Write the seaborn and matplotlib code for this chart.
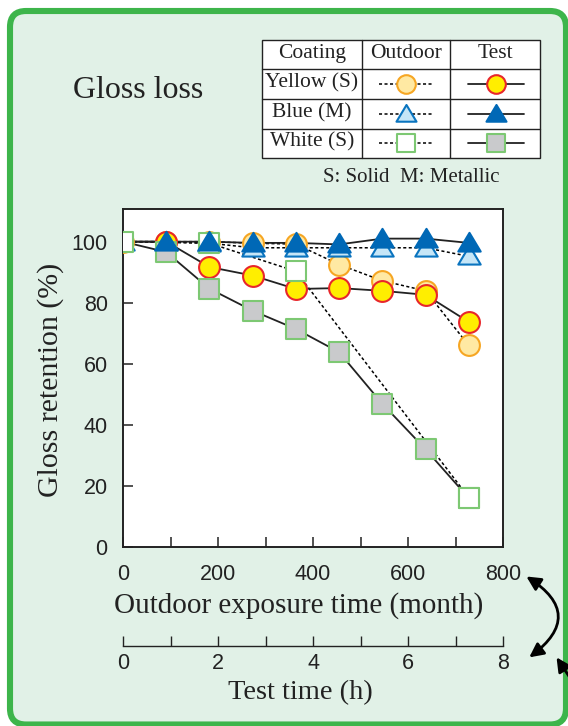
import numpy as np
import matplotlib
matplotlib.use('Agg')
import matplotlib.pyplot as plt
import matplotlib.patches as mpatches
import matplotlib.ticker as mticker
from matplotlib.path import Path
import seaborn as sns

# ── Datos ────────────────────────────────────────────────────
meses = [0, 91, 182, 273, 364, 455, 546, 637, 728]
amarillo_test = [100, 100, 91.7, 88.9, 84.5, 84.8, 83.9, 82.6, 73.7]
amarillo_ext = [100, 100, 100, 99.5, 99.2, 92.5, 87.2, 83.9, 66.0]
azul_test = [100, 100, 100, 99.6, 99.6, 99.1, 101.0, 101.0, 99.6]
azul_ext = [100, 100, 99.5, 98.0, 98.0, 98.0, 98.0, 98.0, 95.2]
blanco_test = [100, 96.6, 84.6, 77.4, 71.4, 63.8, 46.9, 32.0, 16.0]
meses_blanco_ext = [0, 182, 364, 728]
blanco_ext = [100, 99.5, 90.3, 16.2]

ticks_meses = [0, 200, 400, 600, 800]
ticks_horas = [0, 2, 4, 6, 8]
ticks_y = [0, 20, 40, 60, 80, 100]

# ── Configuración visual ──────────────────────────────────────
sns.set_theme(style='ticks')
plt.rcParams.update({
    'font.family': ['Liberation Sans', 'DejaVu Sans'],
    'axes.linewidth': 1.4,
    'axes.edgecolor': '#222222',
    'xtick.color': '#222222',
    'ytick.color': '#222222',
})
SERIF = ['Liberation Serif', 'DejaVu Serif']

VERDE_BORDE = '#3DB54B'
FONDO = '#E1F1E7'
triangulo = Path([(-1, -0.72), (1, -0.72), (0, 0.95), (-1, -0.72)],
                 [Path.MOVETO, Path.LINETO, Path.LINETO, Path.CLOSEPOLY])

estilos = {
    'amarillo_ext': dict(marker='o', s=225, color='#FFE9A3', edgecolor='#F6A623', linewidth=1.5),
    'azul_ext': dict(marker=triangulo, s=260, color='#C6E6F7', edgecolor='#0A74BF', linewidth=1.5),
    'amarillo_test': dict(marker='o', s=225, color='#FFEE00', edgecolor='#E8262B', linewidth=1.5),
    'blanco_test': dict(marker='s', s=215, color='#C9CACC', edgecolor='#7DC873', linewidth=1.5),
    'blanco_ext': dict(marker='s', s=215, color='white', edgecolor='#7DC873', linewidth=1.5),
    'azul_test': dict(marker=triangulo, s=260, color='#0068B6', edgecolor='#0068B6', linewidth=1.5),
}
punteado = (0, (2.0, 1.6))

W, H = 568, 726
fig = plt.figure(figsize=(W / 100, H / 100), dpi=100)
fig.patch.set_facecolor('white')

# capa de fondo en píxeles
fondo = fig.add_axes([0, 0, 1, 1], zorder=-1)
fondo.set_xlim(0, W)
fondo.set_ylim(H, 0)
fondo.axis('off')
fondo.add_patch(mpatches.FancyBboxPatch((10, 11), 556, 713.5,
                                        boxstyle='round,pad=0,rounding_size=16',
                                        facecolor=FONDO, edgecolor=VERDE_BORDE, linewidth=4.4))

# ── Gráfico principal ────────────────────────────────────────
ax = fig.add_axes([123 / W, 1 - 547 / H, 380 / W, 338 / H])
ax.set_facecolor('white')

sns.lineplot(x=meses, y=amarillo_ext, ax=ax, color='black', lw=1.1, linestyle=punteado, errorbar=None, zorder=2)
sns.lineplot(x=meses, y=azul_ext, ax=ax, color='black', lw=1.1, linestyle=punteado, errorbar=None, zorder=2)
sns.lineplot(x=meses_blanco_ext, y=blanco_ext, ax=ax, color='black', lw=1.1, linestyle=punteado, errorbar=None, zorder=2)
sns.lineplot(x=meses, y=amarillo_test, ax=ax, color='#222222', lw=1.3, errorbar=None, zorder=2)
sns.lineplot(x=meses, y=azul_test, ax=ax, color='#222222', lw=1.3, errorbar=None, zorder=2)
sns.lineplot(x=meses, y=blanco_test, ax=ax, color='#222222', lw=1.3, errorbar=None, zorder=2)

sns.scatterplot(x=meses, y=amarillo_ext, ax=ax, zorder=3.0, **estilos['amarillo_ext'])
sns.scatterplot(x=meses, y=azul_ext, ax=ax, zorder=3.1, **estilos['azul_ext'])
sns.scatterplot(x=meses[1:], y=amarillo_test[1:], ax=ax, zorder=3.2, **estilos['amarillo_test'])
sns.scatterplot(x=meses[1:], y=blanco_test[1:], ax=ax, zorder=3.3, **estilos['blanco_test'])
sns.scatterplot(x=meses_blanco_ext, y=blanco_ext, ax=ax, zorder=3.4, **estilos['blanco_ext'])
sns.scatterplot(x=meses[1:], y=azul_test[1:], ax=ax, zorder=3.5, **estilos['azul_test'])

ax.set_xlim(0, 800)
ax.set_ylim(0, 110.7)
ax.set_xticks(ticks_meses)
ax.xaxis.set_minor_locator(mticker.MultipleLocator(100))
ax.set_yticks(ticks_y)
ax.tick_params(axis='both', which='both', direction='in', length=7, width=1.1,
               labelsize=15.5, pad=11)
ax.tick_params(axis='x', which='major', pad=12)
for lado in ['top', 'right', 'left', 'bottom']:
    ax.spines[lado].set_visible(True)

ax.set_ylabel('Gloss retention (%)', family=SERIF, fontsize=21.5, color='#222222', va='center')
ax.yaxis.set_label_coords(-0.192, 0.495)
ax.set_xlabel('Outdoor exposure time (month)', family=SERIF, fontsize=21,
              color='#222222', va='center')
ax.xaxis.set_label_coords(0.463, -0.173)

# eje secundario: tiempo de ensayo
secax = ax.secondary_xaxis(-0.293, functions=(lambda m: m / 100, lambda h: h * 100))
secax.set_xticks(ticks_horas)
secax.xaxis.set_minor_locator(mticker.MultipleLocator(1))
secax.tick_params(axis='x', which='both', direction='in', length=7, width=1.0,
                  labelsize=15.5, pad=5, colors='#222222')
secax.spines['bottom'].set_linewidth(1.0)
secax.spines['bottom'].set_color('#222222')
secax.set_xlabel('Test time (h)', family=SERIF, fontsize=20.5, color='#222222', va='center')
secax.xaxis.set_label_coords(0.467, -0.432, transform=ax.transAxes)

# ── Título ───────────────────────────────────────────────────
fig.text(73 / W, 1 - 91 / H, 'Gloss loss', family=SERIF, fontsize=23,
         color='#222222', ha='left', va='center')

# ── Tabla de leyenda ─────────────────────────────────────────
xs = [262, 362, 450, 540]
ys = [40, 69, 98.5, 128.5, 158]
fondo.add_patch(mpatches.Rectangle((xs[0], ys[0]), xs[-1] - xs[0], ys[-1] - ys[0],
                                   facecolor='white', edgecolor='#222222', lw=1.0))
for xv in xs[1:-1]:
    fondo.plot([xv, xv], [ys[0], ys[-1]], color='#222222', lw=1.0)
for yv in ys[1:-1]:
    fondo.plot([xs[0], xs[-1]], [yv, yv], color='#222222', lw=1.0)

encabezados = ['Coating', 'Outdoor', 'Test']
for i, txt in enumerate(encabezados):
    fondo.text((xs[i] + xs[i + 1]) / 2, (ys[0] + ys[1]) / 2 - 1, txt, family=SERIF,
               fontsize=15.5, ha='center', va='center', color='#222222')

recubrimientos = ['Yellow (S)', 'Blue (M)', 'White (S)']
claves = [('amarillo_ext', 'amarillo_test'), ('azul_ext', 'azul_test'), ('blanco_ext', 'blanco_test')]
for j, (nombre, (k_ext, k_test)) in enumerate(zip(recubrimientos, claves)):
    yc = (ys[j + 1] + ys[j + 2]) / 2
    fondo.text((xs[0] + xs[1]) / 2, yc - 1, nombre, family=SERIF, fontsize=15.5,
               ha='center', va='center', color='#222222')
    fondo.plot([379, 433], [yc, yc], color='black', lw=1.1, linestyle=punteado)
    fondo.plot([468, 524], [yc, yc], color='#222222', lw=1.3)
    for k, xc in [(k_ext, 406), (k_test, 496)]:
        e = estilos[k]
        fondo.scatter([xc], [yc], marker=e['marker'], s=e['s'] * 0.8, color=e['color'],
                      edgecolor=e['edgecolor'], linewidth=e['linewidth'], zorder=3)

fondo.text(323, 178, 'S: Solid  M: Metallic', family=SERIF, fontsize=15,
           ha='left', va='center', color='#222222')

# ── Flechas ──────────────────────────────────────────────────
fondo.annotate('', xy=(524, 575), xytext=(527, 659),
               arrowprops=dict(arrowstyle='<|-|>,head_length=0.7,head_width=0.35',
                               connectionstyle='arc3,rad=0.75', color='black', lw=2.0),
               annotation_clip=False)
fondo.annotate('', xy=(555, 655), xytext=(578, 690),
               arrowprops=dict(arrowstyle='-|>,head_length=0.7,head_width=0.35',
                               color='black', lw=2.0),
               annotation_clip=False)

plt.savefig('out.png', dpi=100, facecolor=fig.get_facecolor())
